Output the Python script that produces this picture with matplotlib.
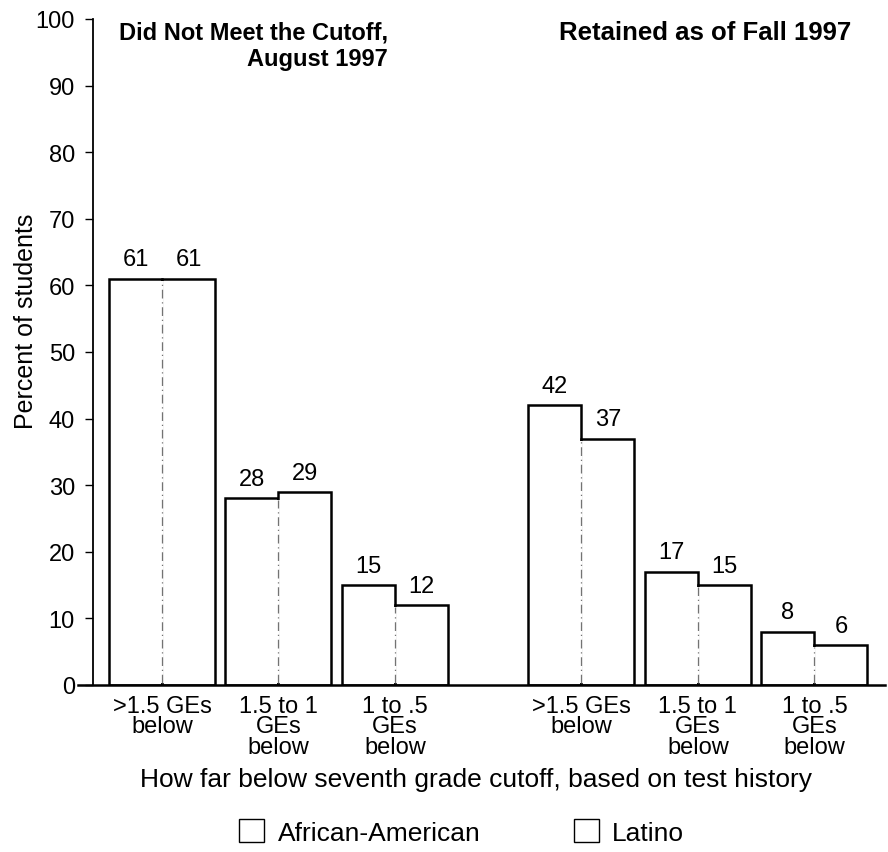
import numpy as np
import matplotlib
matplotlib.use("Agg")
import matplotlib.pyplot as plt
from matplotlib.patches import Patch

plt.rcParams['font.family'] = ['Liberation Sans', 'DejaVu Sans']

# --- data ---
categories = [">1.5 GEs\nbelow", "1.5 to 1\nGEs\nbelow", "1 to .5\nGEs\nbelow"] * 2
african_american = [61, 28, 15, 42, 17, 8]
latino = [61, 29, 12, 37, 15, 6]
panel_titles = ["Did Not Meet the Cutoff,\nAugust 1997", "Retained as of Fall 1997"]
series_names = ["African-American", "Latino"]

# pair positions: two groups of three, with a wider gap between groups
pos = np.array([0, 1, 2, 3.6, 4.6, 5.6])
w = 0.455

fig = plt.figure(figsize=(8.88, 8.53), dpi=100)
ax = fig.add_axes([0.0878, 0.1958, 0.9088, 0.7808])

bar_kw = dict(color='white', edgecolor='black', linewidth=1.8, zorder=2)
ax.bar(pos - w / 2, african_american, w, **bar_kw)
ax.bar(pos + w / 2, latino, w, **bar_kw)

# dashed divider between the two bars of each pair
for x, a, l in zip(pos, african_american, latino):
    low = min(a, l)
    ax.vlines(x, 0.3, low - 0.3, color='white', linewidth=2.8, zorder=3)
    ax.vlines(x, 0.3, low - 0.3, color='0.45', linewidth=0.9,
              linestyles=(0, (7, 3, 1, 3)), zorder=4)

# value labels
for xs, vals in ((pos - w / 2, african_american), (pos + w / 2, latino)):
    for x, v in zip(xs, vals):
        ax.annotate(str(v), (x, v), xytext=(0, 6), textcoords='offset points',
                    ha='center', va='bottom', fontsize=17)

ax.set_xlim(-0.721, 6.206)
ax.set_ylim(0, 100)
ax.spines['top'].set_visible(False)
ax.spines['right'].set_visible(False)
ax.spines['left'].set_position(('data', -0.592))
ax.spines['left'].set_linewidth(1.3)
ax.spines['bottom'].set_linewidth(1.8)

ax.set_yticks(np.arange(0, 101, 10))
ax.tick_params(axis='y', length=6, width=1, pad=7, labelsize=17)
ax.set_xticks(pos)
ax.set_xticklabels(categories, linespacing=0.92)
ax.tick_params(axis='x', length=0, pad=7, labelsize=17)

ax.set_ylabel("Percent of students", fontsize=18)
ax.yaxis.set_label_coords(-0.049, 0.548)

# panel titles
ax.text(1.94, 99.8, panel_titles[0], ha='right', va='top', fontsize=17,
        fontweight='bold', multialignment='right', linespacing=1.2)
ax.text(4.665, 99.8, panel_titles[1], ha='center', va='top', fontsize=18.5,
        fontweight='bold')

fig.text(476 / 888, 1 - 780 / 853, "How far below seventh grade cutoff, based on test history",
         ha='center', va='center', fontsize=19)

handles = [Patch(facecolor='white', edgecolor='black', linewidth=1.0) for _ in series_names]
fig.legend(handles, series_names, loc='center', bbox_to_anchor=(0.52, 1 - 833 / 853),
           ncol=2, frameon=False, fontsize=19, handlelength=0.95, handleheight=0.95,
           handletextpad=0.5, columnspacing=3.55)

fig.savefig("out.png", dpi=100)
